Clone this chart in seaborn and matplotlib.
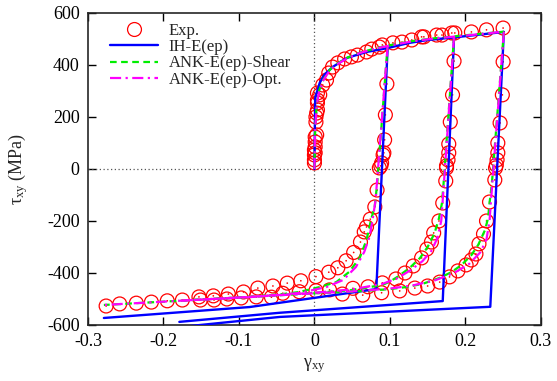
import numpy as np
import pandas as pd
import seaborn as sns
import matplotlib
matplotlib.use("Agg")
import matplotlib.pyplot as plt
from matplotlib.lines import Line2D
from matplotlib.ticker import FixedLocator, FixedFormatter

# ---------------- data ----------------
# Experimental shear stress-strain points (gamma_xy, tau_xy [MPa])
exp_gamma = [
    # monotonic loading
    0.000, 0.000, 0.000, 0.001, 0.000, 0.001, 0.001, 0.001, 0.003, 0.002, 0.002, 0.003,
    0.004, 0.004, 0.004, 0.007, 0.004, 0.011, 0.016, 0.019, 0.024, 0.031, 0.040, 0.049,
    0.057, 0.069, 0.076, 0.086, 0.090, 0.104, 0.116, 0.129, 0.142, 0.145, 0.162, 0.169,
    0.182, 0.186, 0.208, 0.228, 0.250,
    # unloading / reversal 1
    0.096, 0.094, 0.093, 0.092, 0.091, 0.089, 0.088, 0.086, 0.083, 0.080,
    0.074, 0.069, 0.066, 0.061, 0.052, 0.042, 0.031, 0.019, 0.002, -0.018, -0.036, -0.055,
    -0.075, -0.094, -0.114, -0.134, -0.153, -0.175, -0.195, -0.216, -0.236, -0.258, -0.276,
    # unloading / reversal 2
    0.185, 0.183, 0.180, 0.178, 0.178, 0.177, 0.175, 0.175, 0.174,
    0.170, 0.165, 0.158, 0.155, 0.149, 0.142, 0.131, 0.120, 0.108, 0.090, 0.071, 0.051,
    0.020, 0.002, -0.020, -0.042,
    # unloading / reversal 3
    0.250, 0.249, 0.246, 0.243, 0.243, 0.242, 0.241, 0.240, 0.239,
    0.232, 0.228, 0.224, 0.218, 0.214, 0.208, 0.201, 0.190, 0.179, 0.166, 0.150, 0.133,
    0.113, 0.089, 0.064, 0.037, -0.057, -0.077, -0.097, -0.116, -0.133, -0.151,
]
exp_tau = [
    23, 35, 54, 62, 73, 85, 104, 123, 131, 180, 200, 215,
    227, 254, 265, 285, 292, 323, 342, 369, 392, 408, 423, 431,
    438, 450, 461, 469, 477, 485, 488, 496, 508, 508, 515, 515,
    523, 523, 527, 535, 542,
    327, 208, 112, 62, 54, 23, 12, 4, -81, -146,
    -193, -223, -242, -281, -321, -353, -380, -397, -414, -430, -439, -450,
    -458, -473, -481, -488, -492, -504, -507, -512, -516, -519, -527,
    415, 285, 181, 96, 62, 35, 12, 4, -46,
    -131, -200, -246, -281, -308, -342, -373, -400, -423, -438, -453, -459,
    -465, -468, -472, -478,
    412, 285, 177, 100, 62, 35, 15, 4, -42,
    -127, -200, -250, -288, -327, -350, -369, -392, -415, -435, -450, -458,
    -469, -476, -485, -481, -493, -492, -496, -500, -504, -504,
]

# IH-E(ep): monotonic curve and three reversal branches
ih_load_gamma = [0.000, 0.001, 0.007, 0.013, 0.024, 0.043, 0.069, 0.097, 0.126, 0.150, 0.185, 0.251]
ih_load_tau = [0, 273, 331, 362, 392, 427, 450, 465, 485, 496, 506, 527]
ih_rev1_gamma = [0.097, 0.082, -0.086, -0.279]
ih_rev1_tau = [465, -462, -531, -573]
ih_rev2_gamma = [0.185, 0.170, -0.046, -0.179]
ih_rev2_tau = [506, -508, -553, -588]
ih_rev3_gamma = [0.251, 0.233, -0.046, -0.165]
ih_rev3_tau = [527, -530, -569, -604]

# ANK-E(ep)-Shear
sh_load_gamma = [0.000, 0.001, 0.003, 0.006, 0.012, 0.020, 0.030, 0.045, 0.060, 0.080, 0.100, 0.130, 0.160, 0.185, 0.210, 0.251]
sh_load_tau = [0, 150, 250, 300, 345, 380, 405, 430, 447, 463, 476, 492, 503, 510, 517, 528]
sh_rev1_gamma = [0.097, 0.083, 0.080, 0.075, 0.069, 0.060, 0.046, 0.029, 0.007, -0.020, -0.042, -0.086, -0.180, -0.279]
sh_rev1_tau = [476, -60, -142, -196, -273, -342, -396, -435, -454, -473, -481, -492, -507, -523]
sh_rev2_gamma = [0.185, 0.171, 0.169, 0.165, 0.159, 0.150, 0.140, 0.126, 0.110, 0.100, 0.090, 0.046, 0.002, -0.086, -0.180]
sh_rev2_tau = [510, -60, -131, -190, -248, -300, -342, -381, -415, -433, -446, -467, -476, -492, -507]
sh_rev3_gamma = [0.251, 0.235, 0.232, 0.230, 0.226, 0.217, 0.208, 0.195, 0.182, 0.166, 0.143, 0.122, 0.100, 0.050, 0.000, -0.086, -0.160]
sh_rev3_tau = [528, -60, -131, -190, -235, -292, -331, -369, -396, -419, -442, -454, -462, -472, -478, -492, -504]

# ANK-E(ep)-Opt.
op_load_gamma = [0.000, 0.001, 0.003, 0.006, 0.012, 0.020, 0.030, 0.045, 0.060, 0.080, 0.100, 0.130, 0.160, 0.185, 0.210, 0.251]
op_load_tau = [0, 150, 245, 295, 342, 378, 403, 428, 446, 462, 475, 491, 502, 509, 516, 528]
op_rev1_gamma = [0.097, 0.081, 0.077, 0.073, 0.066, 0.055, 0.038, 0.016, -0.020, -0.086, -0.180, -0.279]
op_rev1_tau = [475, -120, -196, -261, -319, -377, -427, -454, -477, -493, -507, -523]
op_rev2_gamma = [0.185, 0.170, 0.168, 0.163, 0.155, 0.143, 0.127, 0.110, 0.090, 0.050, 0.000, -0.086, -0.180]
op_rev2_tau = [509, -120, -200, -265, -315, -355, -390, -420, -442, -463, -476, -492, -507]
op_rev3_gamma = [0.251, 0.234, 0.232, 0.228, 0.220, 0.205, 0.185, 0.160, 0.130, 0.100, 0.050, 0.000, -0.086, -0.160]
op_rev3_tau = [528, -120, -200, -270, -320, -365, -400, -428, -448, -460, -471, -478, -492, -504]

legend_labels = ["Exp.", "IH-E(ep)", "ANK-E(ep)-Shear", "ANK-E(ep)-Opt."]
x_ticks = [-0.3, -0.2, -0.1, 0.0, 0.1, 0.2, 0.3]
x_tick_labels = ["-0.3", "-0.2", "-0.1", "0", "0.1", "0.2", "0.3"]
y_ticks = [-600, -400, -200, 0, 200, 400, 600]
y_tick_labels = ["-600", "-400", "-200", "0", "200", "400", "600"]

# ---------------- style ----------------
sns.set_style("ticks")
plt.rcParams["font.family"] = ["Liberation Serif", "DejaVu Serif"]
plt.rcParams["mathtext.fontset"] = "custom"
plt.rcParams["mathtext.rm"] = "Liberation Serif"
plt.rcParams["mathtext.it"] = "Liberation Serif:italic"
plt.rcParams["axes.unicode_minus"] = False

BLUE = "#0000ff"
GREEN = "#00ee00"
MAGENTA = "#ff00ff"
RED = "#ff0000"

fig = plt.figure(figsize=(5.57, 3.81), dpi=100)
ax = fig.add_axes([0.158, 0.147, 0.813, 0.819])

# zero axes (dotted)
ax.axhline(0, color="#555555", lw=0.9, ls=(0, (1, 2)), zorder=1)
ax.axvline(0, color="#555555", lw=0.9, ls=(0, (1, 2)), zorder=1)


def branch(g, t, color, ls, lw=1.6, z=3):
    df = pd.DataFrame({"gamma": g, "tau": t})
    sns.lineplot(data=df, x="gamma", y="tau", sort=False, estimator=None,
                 color=color, linestyle=ls, lw=lw, ax=ax, zorder=z)


# experiment markers
exp_df = pd.DataFrame({"gamma": exp_gamma, "tau": exp_tau})
sns.scatterplot(data=exp_df, x="gamma", y="tau", marker="o", s=100,
                facecolor="none", edgecolor=RED, linewidth=0.9, ax=ax, zorder=2)
sns.scatterplot(data=exp_df, x="gamma", y="tau", marker="o", s=1.5,
                color=RED, edgecolor="none", ax=ax, zorder=2)

# IH-E(ep)
for g, t in [(ih_load_gamma, ih_load_tau), (ih_rev1_gamma, ih_rev1_tau),
             (ih_rev2_gamma, ih_rev2_tau), (ih_rev3_gamma, ih_rev3_tau)]:
    branch(g, t, BLUE, "-", lw=1.7, z=3)

# ANK-E(ep)-Shear
for g, t in [(sh_load_gamma, sh_load_tau), (sh_rev1_gamma, sh_rev1_tau),
             (sh_rev2_gamma, sh_rev2_tau), (sh_rev3_gamma, sh_rev3_tau)]:
    branch(g, t, GREEN, (0, (3, 2)), lw=1.6, z=4)

# ANK-E(ep)-Opt.
for g, t in [(op_load_gamma, op_load_tau), (op_rev1_gamma, op_rev1_tau),
             (op_rev2_gamma, op_rev2_tau), (op_rev3_gamma, op_rev3_tau)]:
    branch(g, t, MAGENTA, (0, (5, 2, 1, 2)), lw=1.6, z=5)

ax.set_xlim(-0.3, 0.3)
ax.set_ylim(-600, 600)
ax.xaxis.set_major_locator(FixedLocator(x_ticks))
ax.xaxis.set_major_formatter(FixedFormatter(x_tick_labels))
ax.yaxis.set_major_locator(FixedLocator(y_ticks))
ax.yaxis.set_major_formatter(FixedFormatter(y_tick_labels))
ax.tick_params(direction="in", length=6, width=1, top=True, right=True,
               labelsize=13, pad=6, colors="black")
for sp in ax.spines.values():
    sp.set_linewidth(1.2)
    sp.set_visible(True)

ax.set_xlabel(r"$\mathregular{\gamma_{xy}}$", fontsize=13, labelpad=4)
ax.set_ylabel(r"$\mathregular{\tau_{xy}}$ (MPa)", fontsize=13, labelpad=12)

handles = [
    Line2D([], [], ls="none", marker="o", markersize=10, markerfacecolor="none",
           markeredgecolor=RED, markeredgewidth=0.9),
    Line2D([], [], color=BLUE, lw=1.7),
    Line2D([], [], color=GREEN, lw=1.6, ls=(0, (3, 2))),
    Line2D([], [], color=MAGENTA, lw=1.6, ls=(0, (5, 2, 1, 2))),
]
leg = ax.legend(handles, legend_labels, loc="upper left", frameon=False,
                fontsize=12, handlelength=2.9, handletextpad=0.65,
                labelspacing=0.02, borderaxespad=0.3,
                bbox_to_anchor=(0.022, 1.006))

fig.savefig("out.png", dpi=100)
